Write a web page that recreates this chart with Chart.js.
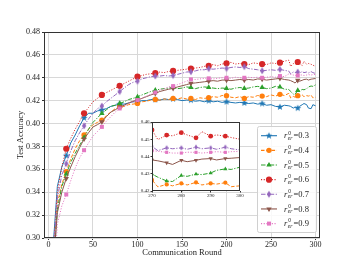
<!DOCTYPE html>
<html>
<head>
<meta charset="utf-8">
<script src="https://cdn.jsdelivr.net/npm/chart.js@4"></script>
<style>
  body { margin: 0; background: #fff; }
  #wrap { position: relative; width: 355px; height: 267px; background: #fff; }
  #main { position: absolute; left: 0; top: 0; }
  #inset { position: absolute; left: 130px; top: 115px; }
</style>
</head>
<body>
<div id="wrap">
  <canvas id="main" width="355" height="267"></canvas>
  <canvas id="inset" width="120" height="90"></canvas>
</div>
<script>
// communication rounds (denser near the end for the zoomed inset)
const rounds = [5, 10, 15, 20, 25, 30, 35, 40, 45, 50, 55, 60, 65, 70, 75, 80, 85, 90, 95, 100,
  105, 110, 115, 120, 125, 130, 135, 140, 145, 150, 155, 160, 165, 170, 175, 180, 185, 190, 195, 200,
  205, 210, 215, 220, 225, 230, 235, 240, 245, 250, 255, 260, 265,
  270, 272, 275, 277, 280, 282, 285, 287, 290, 292, 295, 297, 300];

const acc03 = [0.290, 0.345, 0.362, 0.372, 0.383, 0.390, 0.398, 0.405, 0.409, 0.409, 0.411, 0.412, 0.413, 0.415, 0.416, 0.417, 0.417, 0.418, 0.419, 0.419,
  0.420, 0.420, 0.421, 0.421, 0.4205, 0.4215, 0.421, 0.4215, 0.421, 0.420, 0.4205, 0.4205, 0.4195, 0.420, 0.419, 0.420, 0.419, 0.4195, 0.4185, 0.419,
  0.4185, 0.418, 0.4185, 0.418, 0.4175, 0.418, 0.417, 0.4175, 0.416, 0.4165, 0.415, 0.4145, 0.416,
  0.4155, 0.415, 0.4135, 0.4145, 0.4135, 0.415, 0.4165, 0.4175, 0.4165, 0.4135, 0.413, 0.4165, 0.4155];
const acc04 = [0.275, 0.330, 0.347, 0.358, 0.369, 0.378, 0.385, 0.390, 0.395, 0.399, 0.401, 0.403, 0.407, 0.410, 0.413, 0.4146, 0.415, 0.4165, 0.417, 0.4176,
  0.419, 0.4195, 0.4205, 0.421, 0.4205, 0.4215, 0.421, 0.422, 0.4215, 0.4225, 0.4215, 0.422, 0.421, 0.4225, 0.422, 0.4225, 0.4235, 0.423, 0.4245, 0.4243,
  0.423, 0.4225, 0.4235, 0.422, 0.4235, 0.423, 0.4245, 0.424, 0.4235, 0.425, 0.424, 0.4255, 0.4245,
  0.4264, 0.4224, 0.4238, 0.423, 0.4244, 0.4235, 0.425, 0.4235, 0.4244, 0.424, 0.4248, 0.4225, 0.423];
const acc05 = [0.270, 0.325, 0.345, 0.356, 0.366, 0.374, 0.381, 0.3878, 0.395, 0.401, 0.405, 0.4089, 0.412, 0.415, 0.416, 0.4176, 0.419, 0.421, 0.422, 0.4234,
  0.425, 0.4265, 0.428, 0.4292, 0.430, 0.4305, 0.431, 0.4316, 0.4305, 0.431, 0.432, 0.4316, 0.4305, 0.4315, 0.432, 0.4316, 0.431, 0.4305, 0.431, 0.4307,
  0.430, 0.431, 0.4315, 0.4307, 0.431, 0.432, 0.4325, 0.4316, 0.4305, 0.431, 0.4325, 0.432, 0.430,
  0.4298, 0.428, 0.4258, 0.4255, 0.429, 0.4285, 0.4298, 0.4295, 0.4304, 0.432, 0.4328, 0.4325, 0.4338];
const acc06 = [0.285, 0.340, 0.362, 0.378, 0.387, 0.395, 0.402, 0.409, 0.414, 0.419, 0.422, 0.425, 0.427, 0.429, 0.431, 0.433, 0.435, 0.437, 0.439, 0.441,
  0.442, 0.443, 0.4435, 0.444, 0.445, 0.4445, 0.4455, 0.446, 0.4465, 0.447, 0.4475, 0.448, 0.4485, 0.449, 0.450, 0.4505, 0.4515, 0.4505, 0.452, 0.4526,
  0.4535, 0.452, 0.4525, 0.452, 0.4515, 0.453, 0.4525, 0.452, 0.4515, 0.453, 0.4525, 0.4532, 0.4545,
  0.4554, 0.4498, 0.4524, 0.452, 0.4538, 0.4525, 0.4508, 0.4544, 0.4518, 0.4525, 0.4518, 0.451, 0.450];
const acc07 = [0.280, 0.335, 0.355, 0.365, 0.376, 0.385, 0.392, 0.398, 0.404, 0.409, 0.413, 0.4153, 0.419, 0.422, 0.425, 0.428, 0.431, 0.434, 0.436, 0.437,
  0.439, 0.440, 0.441, 0.4415, 0.4415, 0.442, 0.4415, 0.442, 0.443, 0.444, 0.445, 0.4453, 0.446, 0.447, 0.447, 0.448, 0.4475, 0.448, 0.4485, 0.4482,
  0.449, 0.4495, 0.449, 0.4497, 0.448, 0.4475, 0.447, 0.4461, 0.4465, 0.447, 0.4465, 0.4473, 0.4465,
  0.4458, 0.4434, 0.445, 0.4445, 0.445, 0.4442, 0.4454, 0.4445, 0.445, 0.4442, 0.4454, 0.4445, 0.4438];
const acc08 = [0.270, 0.322, 0.340, 0.352, 0.362, 0.371, 0.379, 0.3865, 0.392, 0.397, 0.399, 0.4015, 0.406, 0.410, 0.412, 0.4146, 0.416, 0.418, 0.4195, 0.4205,
  0.422, 0.4235, 0.425, 0.4263, 0.428, 0.429, 0.430, 0.4307, 0.432, 0.433, 0.434, 0.4351, 0.4355, 0.436, 0.4365, 0.437, 0.4375, 0.437, 0.438, 0.438,
  0.4375, 0.438, 0.4385, 0.438, 0.4385, 0.438, 0.439, 0.4387, 0.438, 0.4385, 0.439, 0.4395, 0.4385,
  0.438, 0.4375, 0.4364, 0.4354, 0.4378, 0.437, 0.4378, 0.4385, 0.4388, 0.438, 0.4388, 0.439, 0.4394];
const acc09 = [0.250, 0.312, 0.328, 0.338, 0.350, 0.361, 0.370, 0.3767, 0.383, 0.389, 0.393, 0.3971, 0.402, 0.406, 0.410, 0.4132, 0.415, 0.4175, 0.419, 0.4205,
  0.422, 0.424, 0.4255, 0.4272, 0.429, 0.4305, 0.432, 0.4327, 0.434, 0.4355, 0.437, 0.4386, 0.4385, 0.439, 0.4395, 0.4395, 0.439, 0.4395, 0.440, 0.440,
  0.4395, 0.4405, 0.440, 0.440, 0.4405, 0.440, 0.4405, 0.440, 0.4405, 0.441, 0.4405, 0.4415, 0.441,
  0.4434, 0.443, 0.4424, 0.442, 0.442, 0.4425, 0.4424, 0.442, 0.4424, 0.4428, 0.4424, 0.4428, 0.443];

const ratios = ['0.3', '0.4', '0.5', '0.6', '0.7', '0.8', '0.9'];
const xTicks = [0, 50, 100, 150, 200, 250, 300];
const yTicks = [0.30, 0.32, 0.34, 0.36, 0.38, 0.40, 0.42, 0.44, 0.46, 0.48];
const insetXTicks = [270, 280, 290, 300];
const insetYTicks = [0.42, 0.43, 0.44, 0.45, 0.46];

const FONT = '"Liberation Serif", "DejaVu Serif", serif';
Chart.defaults.font.family = FONT;
Chart.defaults.color = '#222';

// custom marker images for the shapes Chart.js lacks
function starImg(color, r) {
  const s = Math.ceil(r * 2 + 2);
  const c = document.createElement('canvas');
  c.width = c.height = s;
  const g = c.getContext('2d');
  g.fillStyle = color;
  g.beginPath();
  for (let i = 0; i < 10; i++) {
    const a = -Math.PI / 2 + i * Math.PI / 5;
    const rr = i % 2 ? r * 0.45 : r;
    g.lineTo(s / 2 + rr * Math.cos(a), s / 2 + rr * Math.sin(a));
  }
  g.closePath();
  g.fill();
  return c;
}
function diamondImg(color, r) {
  const s = Math.ceil(r * 2 + 2);
  const c = document.createElement('canvas');
  c.width = c.height = s;
  const g = c.getContext('2d');
  g.fillStyle = color;
  g.beginPath();
  g.moveTo(s / 2, s / 2 - r);
  g.lineTo(s / 2 + r * 0.6, s / 2);
  g.lineTo(s / 2, s / 2 + r);
  g.lineTo(s / 2 - r * 0.6, s / 2);
  g.closePath();
  g.fill();
  return c;
}

const seriesData = [acc03, acc04, acc05, acc06, acc07, acc08, acc09];
const styles = [
  { color: '#1f77b4', dash: [], marker: big => starImg('#1f77b4', big ? 3.6 : 2.8), rot: 0, scale: 1 },
  { color: '#ff7f0e', dash: [3.5, 1.8], marker: () => 'circle', rot: 0, scale: 1 },
  { color: '#2ca02c', dash: [4.5, 1.5, 1.2, 1.5], marker: () => 'triangle', rot: 0, scale: 1.15 },
  { color: '#d62728', dash: [1.1, 1.6], marker: () => 'circle', rot: 0, scale: 1.15 },
  { color: '#9467bd', dash: [4.5, 1.5, 1.2, 1.5], marker: big => diamondImg('#9467bd', big ? 3.6 : 2.8), rot: 0, scale: 1 },
  { color: '#8c564b', dash: [], marker: () => 'triangle', rot: 180, scale: 1.15 },
  { color: '#e377c2', dash: [1.1, 1.6], marker: () => 'rect', rot: 0, scale: 1.05 }
];

function makeDatasets(inset) {
  return seriesData.map((vals, i) => {
    const st = styles[i];
    const r = (inset ? 2.1 : 2.7) * st.scale;
    return {
      data: rounds.map((x, k) => ({ x: x, y: vals[k] })),
      borderColor: st.color,
      backgroundColor: st.color,
      borderWidth: 1,
      borderDash: st.dash,
      pointStyle: st.marker(!inset),
      rotation: st.rot,
      pointBorderWidth: 0,
      pointRadius: ctx => {
        const x = rounds[ctx.dataIndex];
        if (inset) return (x % 5 === 0 && x >= 270 && x < 300) ? r : 0;
        return (x % 20 === 0 && x <= 280) ? r : 0;
      },
      tension: 0,
      order: 10 - i
    };
  });
}

const frame = {
  id: 'frame',
  beforeDatasetsDraw(chart) {
    if (chart.canvas.id !== 'inset') return;
    const a = chart.chartArea, ctx = chart.ctx;
    ctx.save();
    ctx.fillStyle = '#fff';
    ctx.fillRect(a.left, a.top, a.right - a.left, a.bottom - a.top);
    ctx.restore();
  },
  afterDatasetsDraw(chart) {
    const a = chart.chartArea, ctx = chart.ctx;
    ctx.save();
    ctx.strokeStyle = '#333';
    ctx.lineWidth = 1;
    ctx.strokeRect(Math.round(a.left) + 0.5, Math.round(a.top) + 0.5,
      Math.round(a.right - a.left) - 1, Math.round(a.bottom - a.top) - 1);
    ctx.restore();
  }
};

const legendBox = {
  id: 'legendBox',
  afterDraw(chart) {
    const ctx = chart.ctx;
    ctx.save();
    ctx.fillStyle = 'rgba(255,255,255,0.85)';
    ctx.strokeStyle = '#d0d0d0';
    ctx.lineWidth = 1;
    ctx.beginPath();
    ctx.roundRect(257.5, 126.5, 59, 106, 2);
    ctx.fill();
    ctx.stroke();
    ctx.textBaseline = 'middle';
    ratios.forEach((lab, i) => {
      const st = styles[i];
      const y = 135.7 + i * 14.65;
      ctx.strokeStyle = st.color;
      ctx.lineWidth = 1.1;
      ctx.setLineDash(st.dash);
      ctx.beginPath();
      ctx.moveTo(261, y);
      ctx.lineTo(277, y);
      ctx.stroke();
      ctx.setLineDash([]);
      const ps = st.marker(true);
      if (typeof ps === 'object') {
        ctx.drawImage(ps, 269 - ps.width / 2, y - ps.height / 2);
      } else {
        ctx.fillStyle = st.color;
        Chart.helpers.drawPoint(ctx, { pointStyle: ps, rotation: st.rot, radius: 2.7 * st.scale, borderWidth: 0 }, 269, y);
      }
      ctx.fillStyle = '#222';
      ctx.textAlign = 'left';
      ctx.font = 'italic 8.5px ' + FONT;
      ctx.fillText('r', 284, y + 0.5);
      ctx.font = '5.5px ' + FONT;
      ctx.fillText('0', 288.2, y - 2.6);
      ctx.font = 'italic 5.5px ' + FONT;
      ctx.fillText('er', 287.8, y + 2.6);
      ctx.font = '8.5px ' + FONT;
      ctx.fillText('=' + lab, 293.5, y + 0.5);
    });
    ctx.restore();
  }
};

new Chart(document.getElementById('main'), {
  type: 'line',
  data: { datasets: makeDatasets(false) },
  options: {
    responsive: false,
    animation: false,
    devicePixelRatio: 1,
    layout: { padding: { top: 32, right: 35, left: 0, bottom: 0 } },
    plugins: { legend: { display: false }, tooltip: { enabled: false } },
    scales: {
      x: {
        type: 'linear', min: -5, max: 305,
        afterBuildTicks: s => { s.ticks = xTicks.map(v => ({ value: v })); },
        afterFit: s => { s.height = 29; },
        grid: { color: '#d8d8d8', tickColor: '#333', tickLength: 2 },
        border: { display: false },
        ticks: { font: { size: 8 }, color: '#222', padding: 0, maxRotation: 0 },
        title: { display: true, text: 'Communication Round', font: { size: 8.5 }, color: '#222', padding: { top: 0, bottom: 9 } }
      },
      y: {
        type: 'linear', min: 0.30, max: 0.48,
        afterBuildTicks: s => { s.ticks = yTicks.map(v => ({ value: v })); },
        afterFit: s => { s.width = 44; },
        grid: { color: '#d8d8d8', tickColor: '#333', tickLength: 2 },
        border: { display: false },
        ticks: { font: { size: 8 }, color: '#222', padding: 2, callback: v => v.toFixed(2) },
        title: { display: true, text: 'Test Accuracy', font: { size: 8.5 }, color: '#222', padding: { top: 16, bottom: 0 } }
      }
    }
  },
  plugins: [frame, legendBox]
});

new Chart(document.getElementById('inset'), {
  type: 'line',
  data: { datasets: makeDatasets(true) },
  options: {
    responsive: false,
    animation: false,
    devicePixelRatio: 1,
    layout: { padding: { top: 7, right: 10, left: 0, bottom: 0 } },
    plugins: { legend: { display: false }, tooltip: { enabled: false } },
    scales: {
      x: {
        type: 'linear', min: 270, max: 300,
        afterBuildTicks: s => { s.ticks = insetXTicks.map(v => ({ value: v })); },
        afterFit: s => { s.height = 14; },
        grid: { drawOnChartArea: false, tickColor: '#333', tickLength: 1.5 },
        border: { display: false },
        ticks: { font: { size: 5 }, color: '#222', padding: 0, maxRotation: 0 }
      },
      y: {
        type: 'linear', min: 0.42, max: 0.46,
        afterBuildTicks: s => { s.ticks = insetYTicks.map(v => ({ value: v })); },
        afterFit: s => { s.width = 22; },
        grid: { drawOnChartArea: false, tickColor: '#333', tickLength: 1.5 },
        border: { display: false },
        ticks: { font: { size: 5 }, color: '#222', padding: 1, callback: v => v.toFixed(2) }
      }
    }
  },
  plugins: [frame]
});
</script>
</body>
</html>
